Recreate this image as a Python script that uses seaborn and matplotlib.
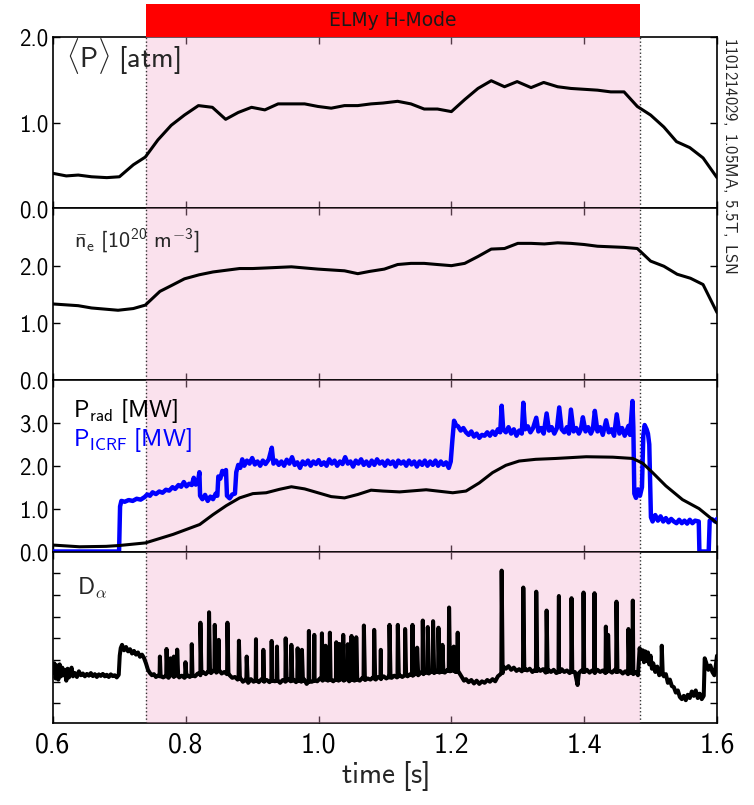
import numpy as np
import matplotlib
matplotlib.use("Agg")
import matplotlib.pyplot as plt
import seaborn as sns

# ---------------- data ----------------
hmode_start, hmode_end = 0.74, 1.484

p_t = [0.600, 0.620, 0.638, 0.658, 0.681, 0.700, 0.721, 0.739, 0.758, 0.778, 0.798, 0.819, 0.840,
       0.860, 0.879, 0.899, 0.919, 0.939, 0.959, 0.979, 0.999, 1.019, 1.039, 1.059, 1.079, 1.097,
       1.119, 1.139, 1.159, 1.179, 1.200, 1.220, 1.240, 1.260, 1.280, 1.299, 1.320, 1.339, 1.360,
       1.380, 1.400, 1.420, 1.440, 1.460, 1.480, 1.500, 1.520, 1.539, 1.559, 1.579, 1.600]
p_v = [0.41, 0.38, 0.39, 0.37, 0.36, 0.37, 0.51, 0.60, 0.80, 0.97, 1.09, 1.20, 1.18,
       1.04, 1.12, 1.18, 1.15, 1.22, 1.22, 1.22, 1.19, 1.17, 1.20, 1.20, 1.22, 1.23,
       1.25, 1.22, 1.16, 1.16, 1.13, 1.27, 1.40, 1.49, 1.42, 1.48, 1.41, 1.47, 1.42,
       1.40, 1.39, 1.38, 1.36, 1.36, 1.19, 1.09, 0.95, 0.78, 0.71, 0.59, 0.36]

ne_t = [0.600, 0.638, 0.658, 0.698, 0.721, 0.739, 0.761, 0.778, 0.798, 0.820, 0.841, 0.861, 0.881,
        0.901, 0.921, 0.959, 0.979, 0.999, 1.039, 1.059, 1.077, 1.099, 1.119, 1.139, 1.159, 1.179,
        1.200, 1.220, 1.240, 1.260, 1.280, 1.300, 1.320, 1.340, 1.360, 1.380, 1.400, 1.420, 1.440,
        1.460, 1.480, 1.500, 1.520, 1.540, 1.560, 1.579, 1.600]
ne_v = [1.33, 1.30, 1.26, 1.22, 1.25, 1.31, 1.55, 1.65, 1.77, 1.84, 1.89, 1.92, 1.95,
        1.95, 1.96, 1.98, 1.96, 1.94, 1.91, 1.86, 1.90, 1.94, 2.02, 2.04, 2.04, 2.02,
        2.00, 2.04, 2.16, 2.29, 2.30, 2.39, 2.39, 2.38, 2.40, 2.39, 2.37, 2.34, 2.33,
        2.32, 2.30, 2.08, 1.99, 1.85, 1.78, 1.67, 1.18]

prad_t = [0.600, 0.640, 0.680, 0.700, 0.739, 0.781, 0.821, 0.841, 0.861, 0.881, 0.901, 0.921, 0.941,
          0.959, 0.979, 0.999, 1.019, 1.039, 1.059, 1.079, 1.097, 1.122, 1.162, 1.202, 1.222, 1.242,
          1.262, 1.282, 1.302, 1.327, 1.357, 1.403, 1.443, 1.473, 1.488, 1.503, 1.523, 1.548, 1.573,
          1.600]
prad_v = [0.15, 0.11, 0.12, 0.14, 0.20, 0.40, 0.63, 0.86, 1.07, 1.25, 1.35, 1.37, 1.45,
          1.51, 1.46, 1.37, 1.28, 1.25, 1.33, 1.43, 1.41, 1.39, 1.44, 1.37, 1.41, 1.60,
          1.84, 2.01, 2.11, 2.15, 2.17, 2.21, 2.20, 2.17, 2.06, 1.84, 1.53, 1.21, 1.00,
          0.66]

icrf_t = [0.600, 0.6995, 0.7010, 0.7030, 0.708, 0.714, 0.720, 0.726, 0.732, 0.738, 0.742, 0.746,
          0.750, 0.755, 0.760, 0.765, 0.770, 0.775, 0.780, 0.784, 0.789, 0.793, 0.797, 0.801,
          0.805, 0.809, 0.812, 0.815, 0.818, 0.8205, 0.8215, 0.825, 0.829, 0.833, 0.837, 0.841,
          0.845, 0.8475, 0.849, 0.852, 0.855, 0.858, 0.8605, 0.862, 0.866, 0.870, 0.874, 0.876,
          0.879, 0.882, 0.885, 0.888, 0.892, 0.896, 0.900, 0.904, 0.908, 0.912, 0.916, 0.920,
          0.925, 0.9295, 0.932, 0.936, 0.940, 0.944, 0.948, 0.952, 0.956, 0.960, 0.964, 0.968,
          0.972, 0.976, 0.980, 0.984, 0.988, 0.992, 0.996, 1.000, 1.004, 1.008, 1.012, 1.016,
          1.020, 1.024, 1.028, 1.032, 1.036, 1.040, 1.044, 1.048, 1.052, 1.056, 1.060, 1.064,
          1.068, 1.072, 1.076, 1.080, 1.084, 1.088, 1.092, 1.096, 1.100, 1.104, 1.108, 1.112,
          1.116, 1.120, 1.124, 1.128, 1.132, 1.136, 1.140, 1.144, 1.148, 1.152, 1.156, 1.160,
          1.164, 1.168, 1.172, 1.176, 1.180, 1.184, 1.188, 1.192, 1.196, 1.199, 1.2015, 1.204,
          1.207, 1.210, 1.214, 1.218, 1.222, 1.226, 1.230, 1.234, 1.238, 1.242, 1.246, 1.250,
          1.254, 1.258, 1.262, 1.266, 1.270, 1.2735, 1.2757, 1.278, 1.282, 1.286, 1.290, 1.294,
          1.298, 1.302, 1.306, 1.3083, 1.311, 1.315, 1.319, 1.323, 1.3278, 1.331, 1.335, 1.339,
          1.3434, 1.347, 1.351, 1.355, 1.359, 1.3624, 1.366, 1.370, 1.374, 1.377, 1.380, 1.384,
          1.388, 1.392, 1.395, 1.398, 1.402, 1.406, 1.410, 1.413, 1.416, 1.420, 1.424, 1.428,
          1.433, 1.437, 1.441, 1.445, 1.449, 1.453, 1.457, 1.461, 1.4666, 1.469, 1.4727, 1.474,
          1.4755, 1.478, 1.481, 1.484, 1.487, 1.489, 1.491, 1.494, 1.496, 1.498, 1.5005, 1.503,
          1.507, 1.511, 1.515, 1.519, 1.523, 1.527, 1.531, 1.535, 1.539, 1.543, 1.547, 1.551,
          1.555, 1.559, 1.563, 1.567, 1.5725, 1.5735, 1.5875, 1.5890, 1.593, 1.597, 1.600]
icrf_v = [0.00, 0.00, 1.05, 1.18, 1.16, 1.20, 1.18, 1.23, 1.21, 1.27, 1.33, 1.30,
          1.38, 1.34, 1.40, 1.37, 1.44, 1.42, 1.50, 1.46, 1.55, 1.51, 1.62, 1.52,
          1.58, 1.55, 1.72, 1.56, 1.60, 1.85, 1.30, 1.22, 1.32, 1.18, 1.28, 1.22,
          1.35, 1.30, 1.75, 1.70, 1.88, 1.80, 1.90, 1.30, 1.24, 1.33, 1.35, 1.85,
          2.02, 1.95, 2.15, 2.00, 2.12, 2.05, 2.18, 2.03, 2.10, 2.00, 2.12, 2.04,
          2.15, 2.42, 2.05, 2.12, 2.02, 2.10, 2.00, 2.14, 2.05, 2.20, 2.02, 2.08,
          1.95, 2.10, 2.03, 2.12, 2.00, 2.10, 2.04, 2.13, 2.02, 2.08, 2.00, 2.15,
          2.05, 2.12, 2.00, 2.10, 2.04, 2.20, 2.05, 2.10, 1.98, 2.12, 2.05, 2.15,
          2.02, 2.10, 2.00, 2.12, 2.02, 2.15, 2.05, 2.10, 2.00, 2.12, 2.04, 2.10,
          1.98, 2.12, 2.05, 2.10, 2.00, 2.12, 2.03, 2.10, 1.98, 2.10, 2.02, 2.12,
          2.00, 2.10, 2.02, 2.12, 2.00, 2.10, 2.02, 2.08, 1.95, 2.10, 2.60, 3.05,
          2.95, 2.92, 2.82, 2.88, 2.78, 2.72, 2.80, 2.68, 2.75, 2.65, 2.72, 2.70,
          2.78, 2.70, 2.80, 2.72, 2.85, 2.78, 3.40, 2.85, 2.78, 2.90, 2.75, 2.85,
          2.70, 2.82, 2.75, 3.47, 2.85, 2.92, 2.78, 2.88, 3.12, 2.80, 2.88, 2.75,
          3.22, 2.82, 2.90, 2.75, 2.88, 3.36, 2.85, 2.78, 2.90, 2.75, 3.31, 2.80,
          2.88, 2.75, 2.85, 3.13, 2.80, 2.90, 2.75, 2.85, 3.28, 2.80, 2.90, 2.72,
          3.06, 2.78, 2.85, 2.70, 3.20, 2.75, 2.88, 2.70, 2.93, 2.72, 3.51, 2.90,
          1.35, 1.25, 1.45, 1.30, 1.50, 2.70, 2.95, 2.85, 2.75, 2.50, 0.80, 0.70,
          0.85, 0.72, 0.82, 0.70, 0.78, 0.68, 0.76, 0.70, 0.66, 0.74, 0.66, 0.72,
          0.65, 0.74, 0.66, 0.72, 0.70, 0.00, 0.00, 0.72, 0.75, 0.70, 0.76]

# D-alpha: noisy background trace
da_base_t = [0.600, 0.602, 0.604, 0.606, 0.608, 0.610, 0.612, 0.614, 0.616, 0.618, 0.620, 0.622,
             0.624, 0.626, 0.628, 0.630, 0.633, 0.636, 0.639, 0.642, 0.645, 0.648, 0.651, 0.654,
             0.657, 0.660, 0.663, 0.666, 0.669, 0.672, 0.675, 0.678, 0.681, 0.684, 0.687, 0.690,
             0.693, 0.696, 0.699, 0.7005, 0.702, 0.704, 0.707, 0.710, 0.713, 0.716, 0.719, 0.722,
             0.725, 0.728, 0.731, 0.734, 0.737, 0.740, 0.743, 0.746, 0.749, 0.752, 0.755, 0.758,
             0.762, 0.766, 0.770, 0.774, 0.778, 0.782, 0.786, 0.790, 0.794, 0.798, 0.802, 0.806,
             0.810, 0.814, 0.818, 0.822, 0.826, 0.830, 0.834, 0.838, 0.842, 0.846, 0.850, 0.854,
             0.858, 0.862, 0.866, 0.870, 0.874, 0.878, 0.882, 0.886, 0.890, 0.894, 0.898, 0.902,
             0.906, 0.910, 0.914, 0.918, 0.922, 0.926, 0.930, 0.934, 0.938, 0.942, 0.946, 0.950,
             0.954, 0.958, 0.962, 0.966, 0.970, 0.974, 0.978, 0.982, 0.986, 0.990, 0.994, 0.998,
             1.002, 1.006, 1.010, 1.014, 1.018, 1.022, 1.026, 1.030, 1.034, 1.038, 1.042, 1.046,
             1.050, 1.054, 1.058, 1.062, 1.066, 1.070, 1.074, 1.078, 1.082, 1.086, 1.090, 1.094,
             1.098, 1.102, 1.106, 1.110, 1.114, 1.118, 1.122, 1.126, 1.130, 1.134, 1.138, 1.142,
             1.146, 1.150, 1.154, 1.158, 1.162, 1.166, 1.170, 1.174, 1.178, 1.182, 1.186, 1.190,
             1.194, 1.198, 1.202, 1.206, 1.210, 1.213, 1.216, 1.219, 1.222, 1.226, 1.230, 1.234,
             1.238, 1.242, 1.246, 1.250, 1.254, 1.258, 1.262, 1.266, 1.270, 1.274, 1.278, 1.282,
             1.286, 1.290, 1.294, 1.298, 1.302, 1.306, 1.310, 1.314, 1.318, 1.322, 1.326, 1.330,
             1.334, 1.338, 1.342, 1.346, 1.350, 1.354, 1.358, 1.362, 1.366, 1.370, 1.374, 1.378,
             1.382, 1.386, 1.390, 1.392, 1.396, 1.400, 1.404, 1.408, 1.412, 1.416, 1.420, 1.424,
             1.428, 1.432, 1.438, 1.442, 1.446, 1.450, 1.454, 1.458, 1.462, 1.466, 1.470, 1.474,
             1.478, 1.481, 1.4835, 1.486, 1.488, 1.490, 1.492, 1.494, 1.496, 1.498, 1.500, 1.502,
             1.504, 1.507, 1.510, 1.513, 1.516, 1.520, 1.523, 1.526, 1.529, 1.532, 1.535, 1.538,
             1.541, 1.544, 1.547, 1.550, 1.553, 1.556, 1.559, 1.562, 1.565, 1.568, 1.571, 1.574,
             1.577, 1.580, 1.5815, 1.584, 1.587, 1.590, 1.593, 1.596, 1.598, 1.600]
da_base_v = [1.40, 1.85, 1.15, 1.75, 1.10, 1.80, 1.25, 1.65, 1.30, 1.55, 1.05, 1.60,
             1.20, 1.50, 1.65, 1.25, 1.40, 1.22, 1.48, 1.30, 1.38, 1.25, 1.36, 1.28,
             1.40, 1.26, 1.35, 1.22, 1.34, 1.27, 1.36, 1.25, 1.32, 1.22, 1.34, 1.26,
             1.30, 1.20, 1.32, 2.20, 2.55, 2.70, 2.45, 2.60, 2.40, 2.50, 2.30, 2.42,
             2.25, 2.35, 2.15, 2.25, 2.10, 1.85, 1.55, 1.40, 1.30, 1.35, 1.22, 1.28,
             1.30, 1.20, 1.28, 1.18, 1.30, 1.22, 1.32, 1.20, 1.28, 1.18, 1.30, 1.22,
             1.35, 1.25, 1.38, 1.30, 1.45, 1.35, 1.48, 1.40, 1.52, 1.42, 1.50, 1.38,
             1.45, 1.35, 1.30, 1.18, 1.22, 1.10, 1.18, 1.00, 1.10, 0.95, 1.12, 1.00,
             1.10, 0.98, 1.12, 1.00, 1.08, 0.98, 1.12, 1.02, 1.10, 0.95, 1.08, 1.00,
             1.12, 1.02, 1.10, 0.98, 1.08, 1.00, 1.12, 0.90, 1.08, 1.00, 1.12, 1.02,
             1.15, 1.05, 1.15, 1.05, 1.15, 1.02, 1.12, 1.05, 1.15, 1.05, 1.12, 1.02,
             1.15, 1.05, 1.15, 1.05, 1.18, 1.08, 1.15, 1.10, 1.20, 1.10, 1.22, 1.12,
             1.25, 1.15, 1.25, 1.18, 1.28, 1.20, 1.30, 1.22, 1.32, 1.25, 1.35, 1.28,
             1.38, 1.30, 1.42, 1.35, 1.45, 1.38, 1.48, 1.40, 1.50, 1.42, 1.50, 1.42,
             1.55, 1.48, 1.55, 1.45, 1.50, 1.35, 1.20, 1.05, 1.12, 0.98, 1.08, 0.92,
             1.05, 0.90, 1.02, 0.95, 1.08, 1.00, 1.12, 1.02, 1.25, 1.35, 1.70, 1.60,
             1.72, 1.55, 1.65, 1.50, 1.58, 1.48, 1.62, 1.52, 1.60, 1.45, 1.55, 1.62,
             1.50, 1.58, 1.42, 1.55, 1.45, 1.55, 1.40, 1.50, 1.58, 1.45, 1.52, 1.40,
             1.55, 1.45, 0.85, 1.40, 1.52, 1.45, 1.55, 1.42, 1.52, 1.40, 1.55, 1.45,
             1.52, 1.40, 1.50, 1.42, 1.55, 1.45, 1.50, 1.38, 1.48, 1.35, 1.45, 1.35,
             1.45, 1.30, 2.55, 2.05, 2.45, 1.90, 2.40, 1.95, 2.35, 1.80, 2.20, 1.60,
             1.85, 1.45, 1.70, 1.30, 1.55, 1.25, 1.35, 0.95, 1.10, 0.80, 0.75, 0.50,
             0.60, 0.30, 0.20, 0.35, 0.15, 0.40, 0.25, 0.55, 0.35, 0.60, 0.25, 0.45,
             0.20, 0.35, 2.08, 1.85, 1.55, 1.75, 1.45, 1.30, 1.70, 2.20]

# D-alpha: ELM spikes (time, peak, level just before the spike)
elm_t = [0.761, 0.771, 0.777, 0.782, 0.787, 0.7995, 0.809, 0.822, 0.835, 0.8436, 0.8496, 0.8627,
         0.880, 0.8917, 0.9057, 0.9168, 0.9293, 0.9373, 0.9504, 0.959, 0.9684, 0.9749, 0.9854,
         0.9935, 1.005, 1.0105, 1.017, 1.0266, 1.0316, 1.0371, 1.044, 1.0496, 1.0567, 1.0682,
         1.0837, 1.0937, 1.1068, 1.1193, 1.1303, 1.1414, 1.1484, 1.1569, 1.1644, 1.1724, 1.1805,
         1.1865, 1.1965, 1.2035, 1.2095, 1.2757, 1.3083, 1.3278, 1.3434, 1.3619, 1.3809, 1.399,
         1.4155, 1.4326, 1.436, 1.4486, 1.4666, 1.4732, 1.5168]
elm_peak = [2.16, 2.51, 2.08, 2.16, 2.48, 1.90, 2.73, 3.72, 4.20, 3.62, 2.93, 3.72,
            2.89, 2.16, 2.96, 2.47, 2.88, 2.62, 3.00, 2.70, 2.54, 2.47, 3.34,
            3.16, 3.23, 2.66, 3.26, 2.82, 2.74, 3.16, 2.73, 3.11, 3.05, 3.59,
            3.39, 2.47, 3.62, 3.62, 3.43, 3.62, 2.57, 3.82, 3.52, 3.79, 3.49,
            2.70, 4.42, 2.62, 3.26, 6.12, 5.34, 5.15, 4.28, 4.95, 4.85, 5.11,
            5.08, 3.54, 3.16, 4.69, 3.43, 4.74, 2.66]
elm_base = [1.25, 1.25, 1.30, 1.30, 1.28, 1.25, 1.28, 1.40, 1.45, 1.50, 1.50, 1.40,
            1.15, 1.05, 1.05, 1.05, 1.05, 1.05, 1.05, 1.05, 1.05, 1.05, 1.00,
            1.05, 1.10, 1.10, 1.10, 1.10, 1.10, 1.10, 1.10, 1.10, 1.10, 1.15,
            1.15, 1.20, 1.20, 1.25, 1.30, 1.30, 1.35, 1.40, 1.40, 1.45, 1.45,
            1.45, 1.50, 1.50, 1.45, 1.40, 1.55, 1.50, 1.45, 1.45, 1.45, 1.45,
            1.45, 1.45, 1.50, 1.45, 1.40, 1.40, 1.35]

y1_ticks = [0.0, 1.0, 2.0]
y2_ticks = [0.0, 1.0, 2.0]
y3_ticks = [0.0, 1.0, 2.0, 3.0]
y4_ticks = [0, 1, 2, 3, 4, 5, 6]
x_ticks = [0.6, 0.8, 1.0, 1.2, 1.4, 1.6]

# assemble D-alpha polyline: background + each ELM drawn as a sharp rise / fall
pts = list(zip(da_base_t, da_base_v))
for t, pk, b in zip(elm_t, elm_peak, elm_base):
    pts += [(t - 0.0005, b), (t, pk), (t + 0.0015, b)]
pts.sort(key=lambda p: p[0])
da_t = [p[0] for p in pts]
da_v = [p[1] for p in pts]

# ---------------- style ----------------
sns.set_style("ticks")
plt.rcParams["font.family"] = ["cmss10", "DejaVu Sans"]
plt.rcParams["mathtext.fontset"] = "custom"
plt.rcParams["mathtext.rm"] = "cmss10"
plt.rcParams["mathtext.sf"] = "cmss10"
plt.rcParams["mathtext.it"] = "cmss10"
plt.rcParams["mathtext.bf"] = "cmss10"
plt.rcParams["axes.unicode_minus"] = False

W, H = 754, 805
fig = plt.figure(figsize=(W / 100, H / 100), dpi=100)
left, right = 53 / W, 717 / W
top_px, bot_px = 37, 723
ph = (bot_px - top_px) / 4
axes = []
for i in range(4):
    y0 = 1 - (top_px + (i + 1) * ph) / H
    ax = fig.add_axes([left, y0, right - left, ph / H])
    axes.append(ax)

# translucent pink overlay drawn above the frame (tints spines/ticks) but below data
pink_rgb = (241 / 255, 169 / 255, 206 / 255)
for ax in axes:
    ax.axvspan(hmode_start, hmode_end, color=pink_rgb, alpha=0.35, zorder=2.6, lw=0)
    ax.axvline(hmode_start, color="#333333", ls=":", lw=1.0, zorder=2.7)
    ax.axvline(hmode_end, color="#333333", ls=":", lw=1.0, zorder=2.7)
    ax.set_xlim(0.6, 1.6)
    ax.set_xticks(x_ticks)
    ax.tick_params(direction="in", top=True, right=True, length=5, width=1,
                   colors="black", labelsize=16.5)
    for s in ax.spines.values():
        s.set_linewidth(1.2)
        s.set_color("black")
    ax.set_facecolor("white")

lw_k = 2.2
sns.lineplot(x=p_t, y=p_v, ax=axes[0], color="black", linewidth=lw_k, sort=False, estimator=None, zorder=3)
sns.lineplot(x=ne_t, y=ne_v, ax=axes[1], color="black", linewidth=lw_k, sort=False, estimator=None, zorder=3)
sns.lineplot(x=icrf_t, y=icrf_v, ax=axes[2], color="#0000ff", linewidth=3.2, sort=False, estimator=None, zorder=3)
sns.lineplot(x=prad_t, y=prad_v, ax=axes[2], color="black", linewidth=lw_k, sort=False, estimator=None, zorder=3.1)
sns.lineplot(x=da_t, y=da_v, ax=axes[3], color="black", linewidth=2.9, sort=False, estimator=None, zorder=3)

axes[0].set_ylim(0, 2.0)
axes[0].set_yticks(y1_ticks)
axes[1].set_ylim(0, 3.0)
axes[1].set_yticks(y2_ticks)
axes[2].set_ylim(0, 4.0)
axes[2].set_yticks(y3_ticks)
axes[3].set_ylim(-0.9, 7.0)
axes[3].set_yticks(y4_ticks)
axes[3].set_yticklabels([])
for ax in axes[:3]:
    ax.set_yticklabels([f"{v:.1f}" for v in ax.get_yticks()])
for ax in axes:
    ax.set_xlabel("")
    ax.set_ylabel("")
for ax in axes[:3]:
    ax.set_xticklabels([])
axes[3].set_xticklabels([f"{v:.1f}" for v in x_ticks])
axes[3].tick_params(axis="x", labelsize=20, pad=7)
axes[3].set_xlabel(r"$\mathsf{time\ [s]}$", fontsize=21, labelpad=0)

axes[0].text(0.02, 0.817, r"$\langle\mathsf{P}\rangle\ \mathsf{[atm]}$", transform=axes[0].transAxes,
             fontsize=20.5, va="baseline", ha="left", zorder=5)
axes[1].text(0.032, 0.777, r"$\bar{\mathsf{n}}_\mathsf{e}\ \mathsf{[10^{20}\ m^{-3}]}$",
             transform=axes[1].transAxes, fontsize=16, va="baseline", ha="left", zorder=5)
axes[2].text(0.03, 0.782, r"$\mathsf{P_{rad}\ [MW]}$", transform=axes[2].transAxes,
             fontsize=17.5, va="baseline", ha="left", color="black", zorder=5)
axes[2].text(0.03, 0.615, r"$\mathsf{P_{ICRF}\ [MW]}$", transform=axes[2].transAxes,
             fontsize=17.5, va="baseline", ha="left", color="#0000ff", zorder=5)
axes[3].text(0.036, 0.75, r"$\mathsf{D}_\alpha$", transform=axes[3].transAxes,
             fontsize=17, va="baseline", ha="left", zorder=5)

fig.text(730 / W, 1 - 37 / H, r"$\mathsf{1101214029,\ 1.05MA,\ 5.5T,\ LSN}$", rotation=270,
         ha="center", va="top", fontsize=12)

# ELMy H-mode bar
bar_ax = fig.add_axes([left, 1 - top_px / H, right - left, (top_px - 4) / H])
bar_ax.set_xlim(0.6, 1.6)
bar_ax.set_ylim(0, 1)
bar_ax.axvspan(hmode_start, hmode_end, color="#ff0000", lw=0)
bar_ax.text((hmode_start + hmode_end) / 2, 0.5, "ELMy H-Mode", ha="center", va="center",
            fontsize=13.5, color="#1a1a1a", family="DejaVu Sans")
bar_ax.axis("off")

fig.savefig("out.png", dpi=100)
